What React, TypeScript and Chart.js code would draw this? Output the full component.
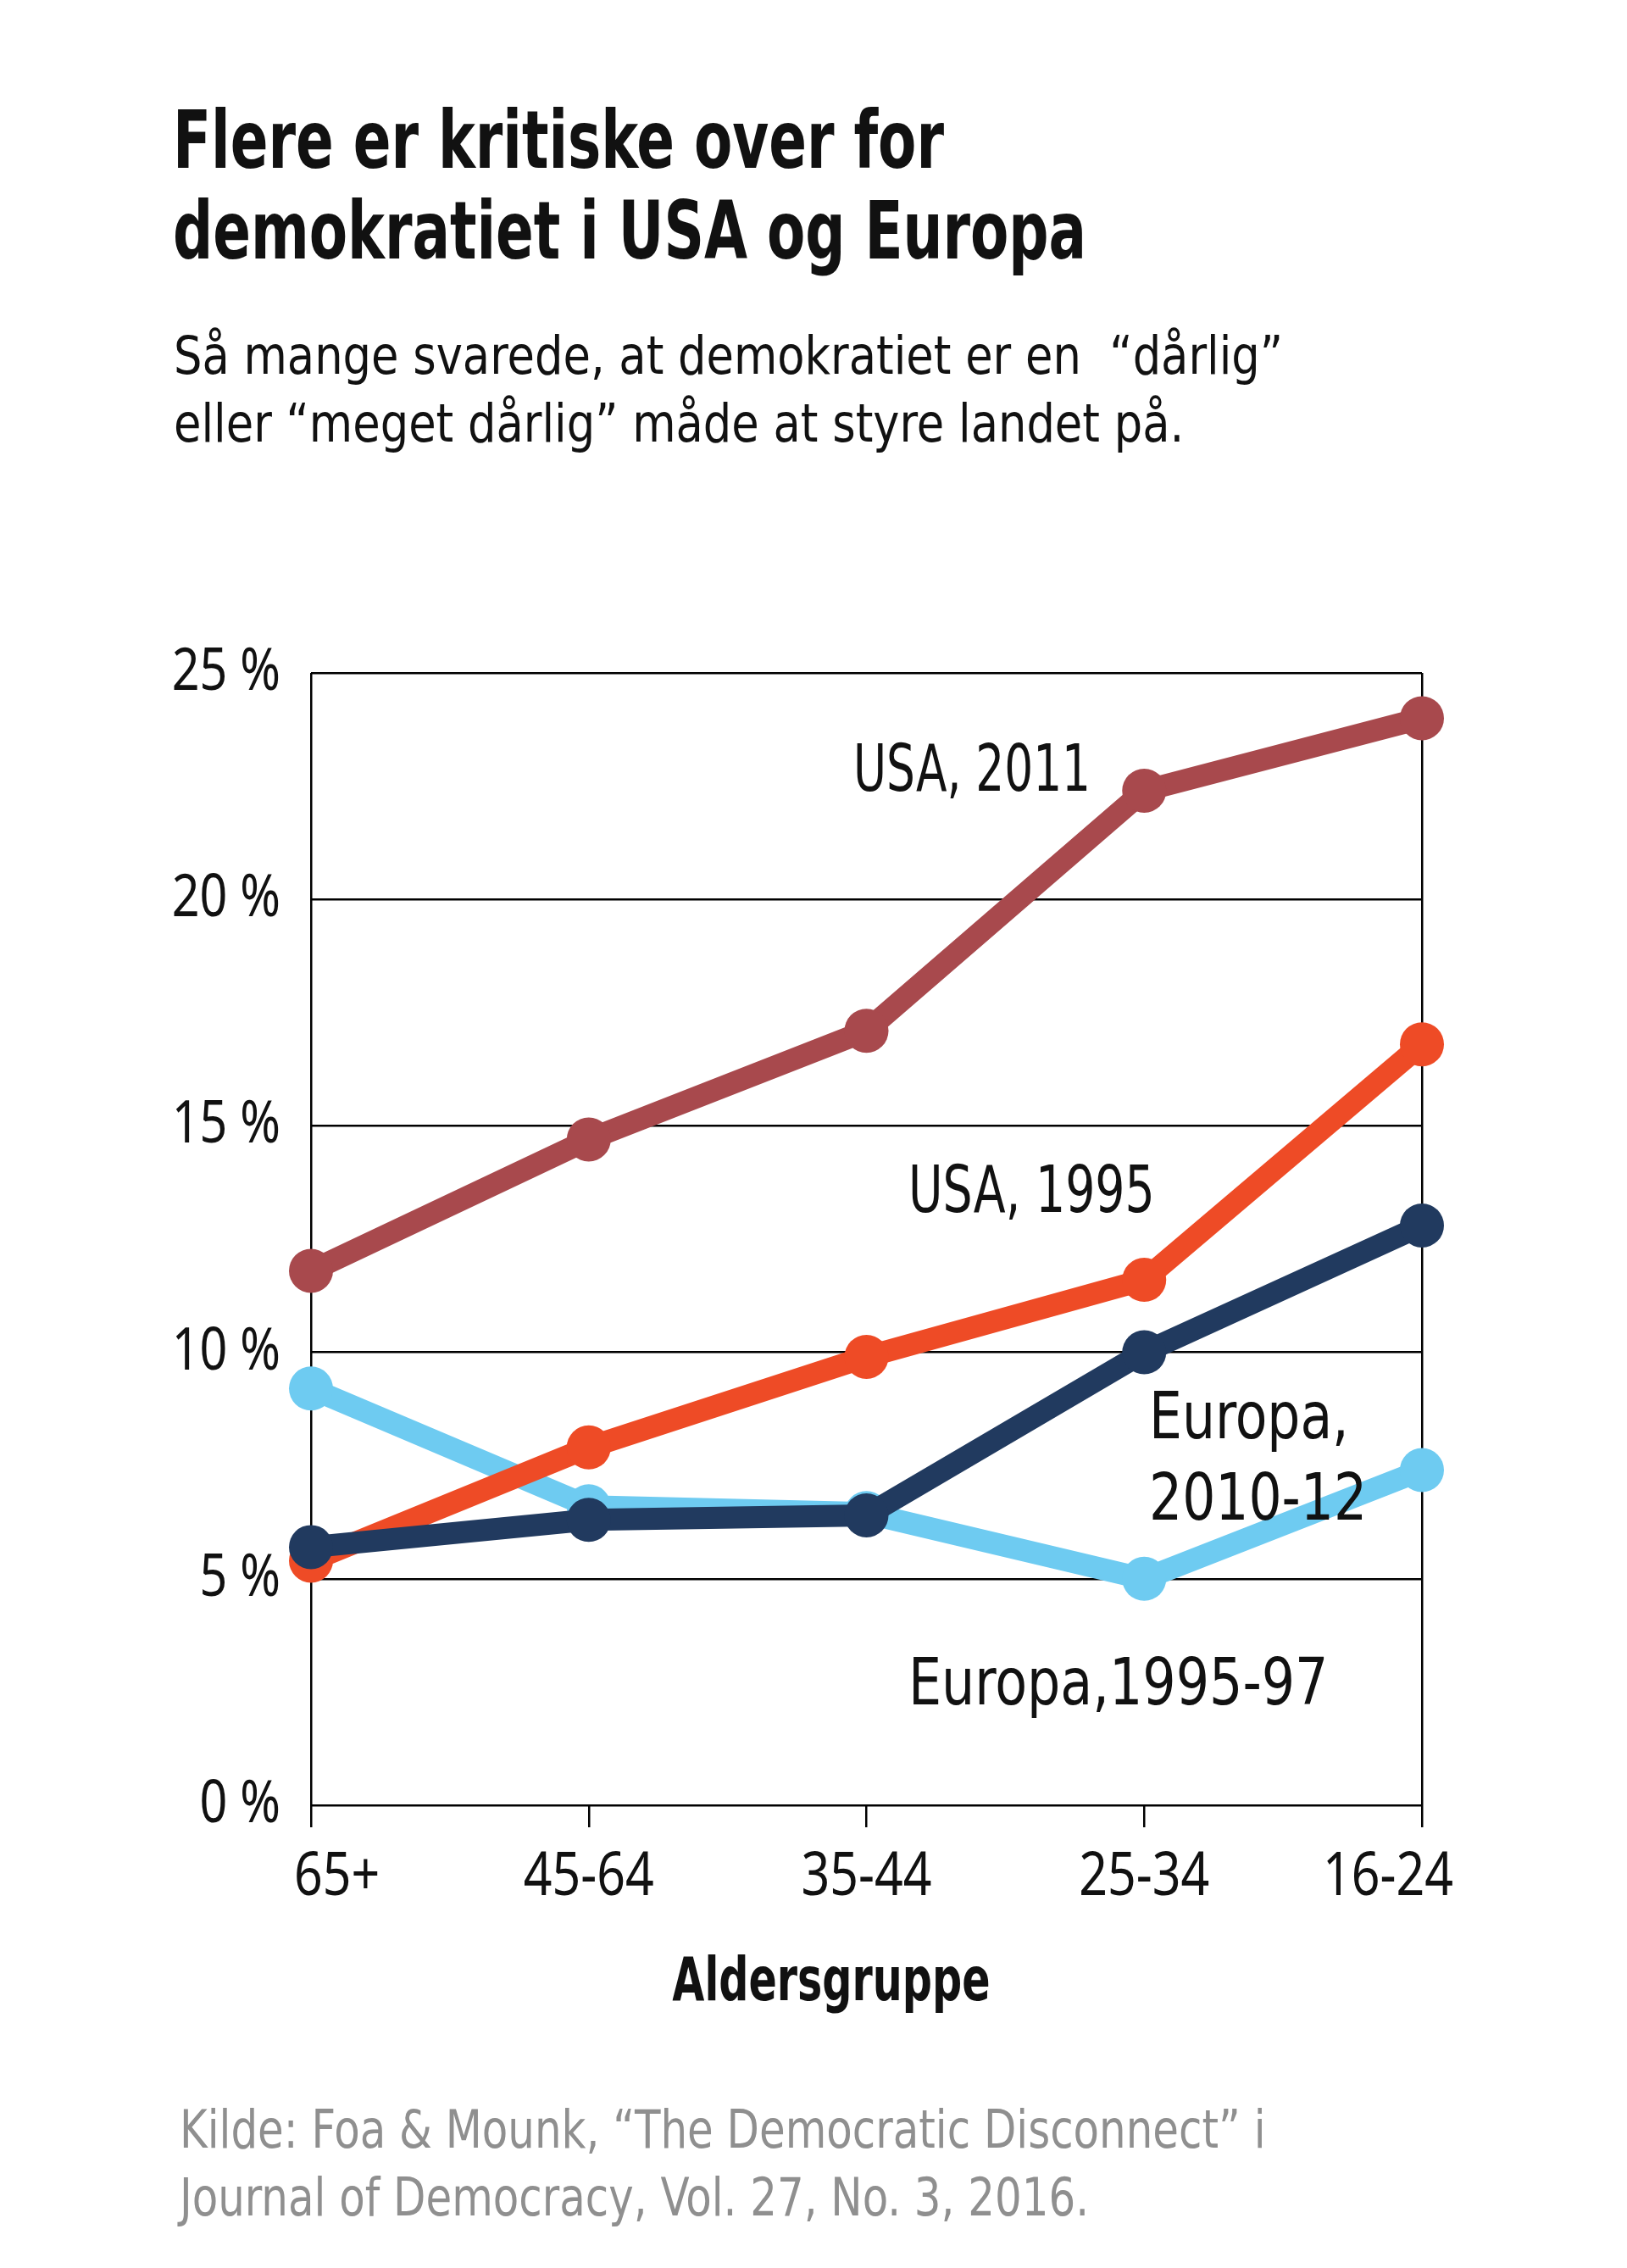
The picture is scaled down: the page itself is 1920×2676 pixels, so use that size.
import React, { useEffect, useRef } from 'react';
import { Chart, registerables } from 'chart.js';

Chart.register(...registerables);

const ageGroups = ['65+', '45-64', '35-44', '25-34', '16-24'];
const usa2011 = [11.8, 14.7, 17.1, 22.4, 24.0];
const usa1995 = [5.4, 7.9, 9.9, 11.6, 16.8];
const europa2010 = [5.7, 6.3, 6.4, 10.0, 12.8];
const europa1995 = [9.2, 6.6, 6.45, 5.0, 7.4];
const yMin = 0;
const yMax = 25;
const yStep = 5;

const COND = "'DejaVu Sans Condensed', 'DejaVu Sans', sans-serif";
const TICKFONT = "'Noto Sans', 'DejaVu Sans Condensed', sans-serif";
const INK = '#111111';

const C_USA2011 = '#a8494d';
const C_USA1995 = '#ee4b26';
const C_EU2010 = '#213a5f';
const C_EU1995 = '#6ecbf1';

const TICK_SQUEEZE = 0.82;
const X_FIRST_SHIFT = -20;
const X_LAST_SHIFT = 37;

// Horizontally condense the tick labels (the original uses a condensed typeface)
const condenseTicks = {
  id: 'condenseTicks',
  beforeDraw(chart: any) {
    const ctx = chart.ctx;
    ['x', 'y'].forEach((id) => {
      const scale = chart.scales[id];
      if (!scale) return;
      const items = scale.getLabelItems();
      const n = items.length;
      items.forEach((item: any, i: number) => {
        ctx.save();
        ctx.font = item.font.string;
        const w = ctx.measureText(String(item.label)).width;
        ctx.restore();
        item.options.maxWidth = w * TICK_SQUEEZE;
        if (id === 'x' && item.options.translation) {
          if (i === 0) item.options.translation[0] += X_FIRST_SHIFT;
          if (i === n - 1) item.options.translation[0] += X_LAST_SHIFT;
        }
      });
    });
  },
};

function ds(label: string, data: number[], color: string) {
  return {
    label,
    data,
    borderColor: color,
    backgroundColor: color,
    borderWidth: 26,
    pointRadius: 26,
    pointHoverRadius: 26,
    pointBorderWidth: 0,
    pointBackgroundColor: color,
    tension: 0,
    clip: false as any,
  };
}

export default function App() {
  const ref = useRef<HTMLCanvasElement | null>(null);

  useEffect(() => {
    document.body.style.margin = '0';
    const canvas = ref.current;
    if (!canvas) return;
    const chart = new Chart(canvas, {
      type: 'line',
      data: {
        labels: ageGroups,
        datasets: [
          ds('Europa, 2010-12', europa2010, C_EU2010),
          ds('USA, 1995', usa1995, C_USA1995),
          ds('Europa, 1995-97', europa1995, C_EU1995),
          ds('USA, 2011', usa2011, C_USA2011),
        ],
      },
      plugins: [condenseTicks],
      options: {
        animation: false,
        responsive: true,
        maintainAspectRatio: false,
        events: [],
        layout: { padding: { top: 94, right: 242, left: 0, bottom: 0 } },
        plugins: {
          legend: { display: false },
          tooltip: { enabled: false },
          title: { display: false },
        },
        scales: {
          x: {
            type: 'category',
            offset: false,
            border: { display: false },
            grid: {
              drawOnChartArea: true,
              drawTicks: true,
              tickLength: 26,
              lineWidth: 2.5,
              color: (ctx: any) => (ctx.index === 0 || ctx.index === ageGroups.length - 1 ? '#000' : 'rgba(0,0,0,0)'),
              tickColor: '#000',
              tickWidth: 2.5,
            } as any,
            ticks: {
              color: INK,
              font: { family: TICKFONT, size: 72 },
              padding: 16,
              align: 'inner',
              maxRotation: 0,
              autoSkip: false,
            },
            afterFit: (scale: any) => {
              scale.height = 220;
            },
          },
          y: {
            min: yMin,
            max: yMax,
            border: { display: false },
            grid: {
              drawTicks: false,
              color: '#000',
              lineWidth: 2.5,
            },
            ticks: {
              stepSize: yStep,
              color: INK,
              font: { family: TICKFONT, size: 70 },
              padding: 36,
              callback: (v: any) => `${v} %`,
            },
            afterFit: (scale: any) => {
              scale.width = 367;
            },
          },
        },
      },
    });
    return () => chart.destroy();
  }, []);

  const abs = (left: number, top: number, sx: number, extra: React.CSSProperties = {}): React.CSSProperties => ({
    position: 'absolute',
    left,
    top,
    whiteSpace: 'nowrap',
    fontFamily: COND,
    color: INK,
    transform: `scaleX(${sx})`,
    transformOrigin: 'left top',
    ...extra,
  });

  const ann = { fontSize: 76, lineHeight: '76px' };

  return (
    <div style={{ position: 'absolute', left: 0, top: 0, width: 1920, height: 2676, background: '#fff', overflow: 'hidden' }}>
      <div style={abs(204, 112, 0.78, { fontSize: 94, lineHeight: '107px', fontWeight: 700 })}>
        Flere er kritiske over for
        <br />
        demokratiet i USA og Europa
      </div>
      <div style={abs(205, 380, 0.93, { fontSize: 63, lineHeight: '80px' })}>
        Så mange svarede, at demokratiet er en&nbsp; “dårlig”
        <br />
        eller “meget dårlig” måde at styre landet på.
      </div>
      <div style={{ position: 'absolute', left: 0, top: 700, width: 1920, height: 1650 }}>
        <canvas ref={ref} />
      </div>
      <div style={abs(1007, 933 - 64, 0.78, ann)}>USA, 2011</div>
      <div style={abs(1072, 1430 - 64, 0.81, ann)}>USA, 1995</div>
      <div style={abs(1356, 1687 - 64, 0.9, { fontSize: 76, lineHeight: '96px' })}>
        Europa,
        <br />
        2010-12
      </div>
      <div style={abs(1072, 2011 - 64, 0.905, ann)}>Europa,1995-97</div>
      <div
        style={{
          position: 'absolute',
          left: 981,
          top: 2300,
          whiteSpace: 'nowrap',
          fontFamily: COND,
          color: INK,
          fontSize: 71,
          lineHeight: '71px',
          fontWeight: 700,
          transform: 'translateX(-50%) scaleX(0.77)',
        }}
      >
        Aldersgruppe
      </div>
      <div style={abs(212, 2473, 0.88, { fontSize: 63, lineHeight: '80px', color: '#8f8f8f' })}>
        Kilde: Foa &amp; Mounk, “The Democratic Disconnect” i
        <br />
        Journal of Democracy, Vol. 27, No. 3, 2016.
      </div>
    </div>
  );
}
